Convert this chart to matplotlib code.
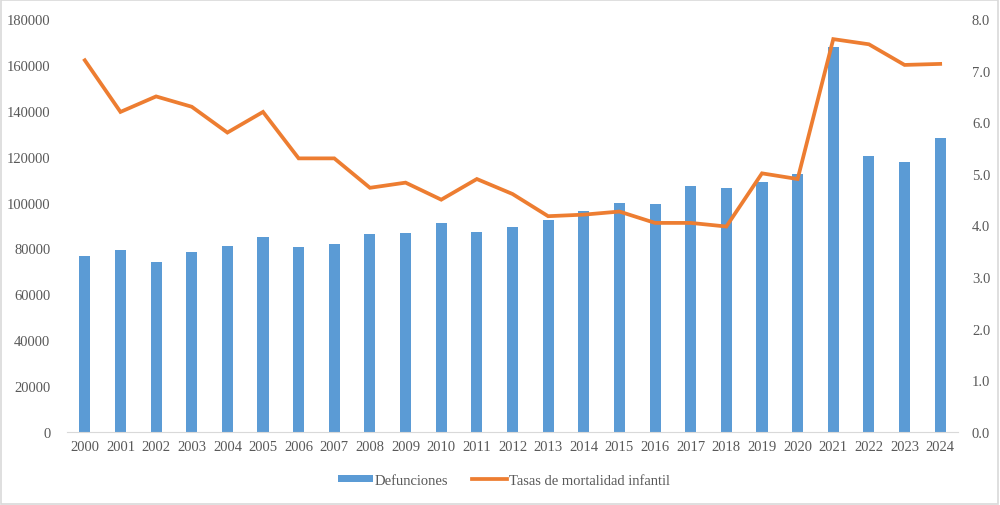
import numpy as np
import matplotlib.pyplot as plt
from matplotlib.patches import Rectangle

plt.rcParams['font.family'] = ['Liberation Serif', 'DejaVu Serif']

years = [str(y) for y in range(2000, 2025)]
defunciones = [76600, 79500, 74000, 78300, 81100, 84900, 80800, 82000, 86300,
               86900, 91100, 87000, 89400, 92400, 96500, 99800, 99400, 107100,
               106200, 109100, 112500, 167700, 120200, 117700, 128300]
tasas = [7.2, 6.2, 6.5, 6.3, 5.8, 6.2, 5.3, 5.3, 4.73, 4.83, 4.5, 4.9, 4.61,
         4.18, 4.21, 4.27, 4.05, 4.05, 3.98, 5.01, 4.9, 7.61, 7.51, 7.11, 7.13]

bar_color = '#5B9BD5'
line_color = '#ED7D31'
text_color = '#595959'

fig = plt.figure(figsize=(10, 5.06), dpi=100)
ax1 = fig.add_axes([0.067, 0.1443, 0.891, 0.8162])
ax2 = ax1.twinx()

x = np.arange(len(years))
ax1.bar(x, defunciones, width=0.31, color=bar_color, label='Defunciones', zorder=2)
ax2.plot(x, tasas, color=line_color, linewidth=2.7, label='Tasas de mortalidad infantil',
         solid_joinstyle='miter', zorder=3)

ax1.set_xlim(-0.5, len(years) - 0.5)
ax1.set_ylim(0, 180000)
ax1.set_yticks(range(0, 180001, 20000))
ax2.set_ylim(0, 8)
ax2.set_yticks(np.arange(0, 8.01, 1))
ax2.set_yticklabels([f'{v:.1f}' for v in np.arange(0, 8.01, 1)])
ax1.set_xticks(x)
ax1.set_xticklabels(years)

for ax in (ax1, ax2):
    for s in ax.spines.values():
        s.set_visible(False)
    ax.tick_params(length=0, labelsize=10.5, colors=text_color)
ax1.spines['bottom'].set_visible(True)
ax1.spines['bottom'].set_color('#D9D9D9')
ax1.tick_params(axis='y', pad=12)
ax1.tick_params(axis='x', pad=6)
ax2.tick_params(axis='y', pad=10)

h1, l1 = ax1.get_legend_handles_labels()
h2, l2 = ax2.get_legend_handles_labels()
leg = fig.legend(h1 + h2, l1 + l2, loc='center', bbox_to_anchor=(0.504, 0.049), ncol=2,
                 frameon=False, fontsize=10.5, handlelength=2.4, handleheight=0.35,
                 columnspacing=1.6, handletextpad=0.15)
for t in leg.get_texts():
    t.set_color(text_color)

fig.patches.append(Rectangle((0.001, 0.002), 0.997, 0.996, transform=fig.transFigure,
                             fill=False, edgecolor='#D9D9D9', linewidth=1.2))

fig.savefig('out.png', dpi=100)
